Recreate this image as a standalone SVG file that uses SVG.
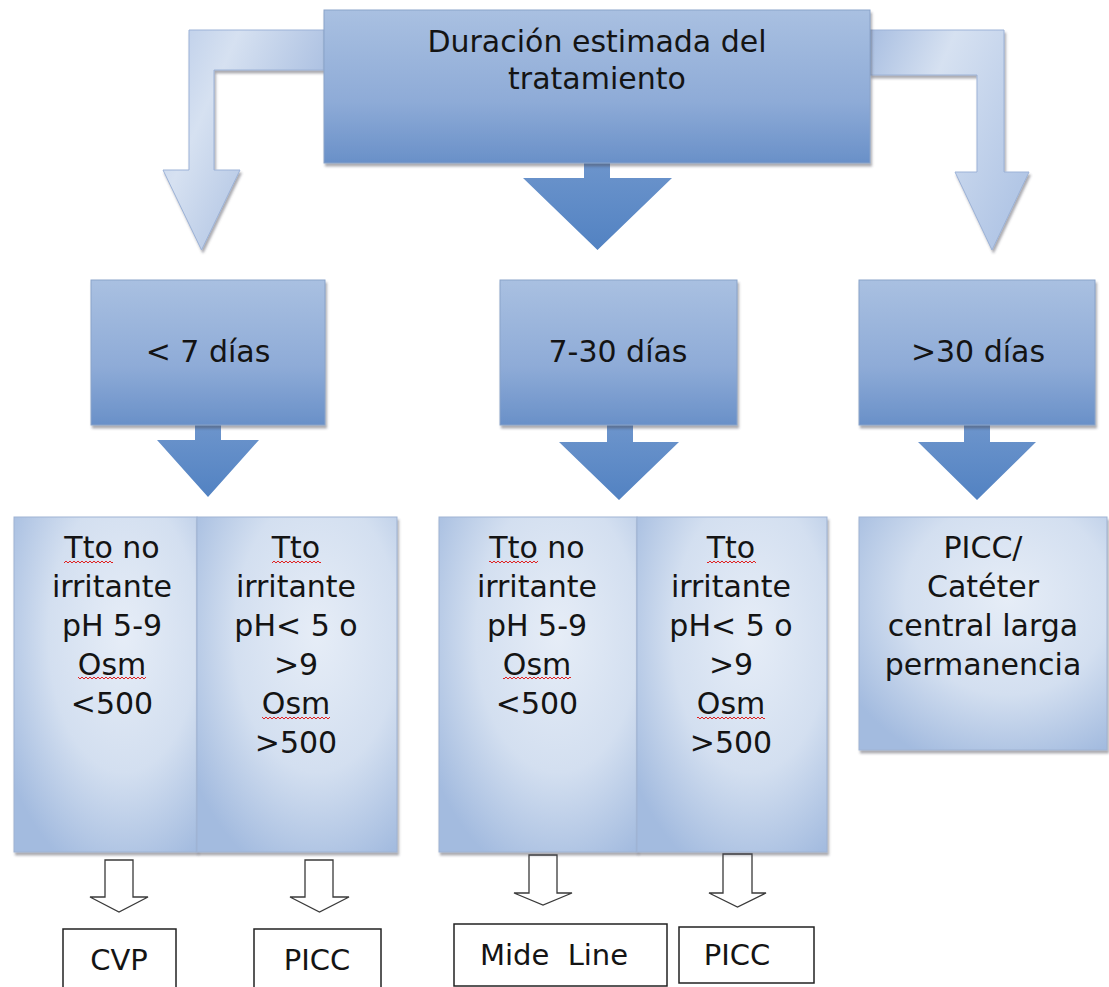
<svg xmlns="http://www.w3.org/2000/svg" width="1109" height="987" viewBox="0 0 1109 987">
<defs>
<linearGradient id="gBox" x1="0" y1="0" x2="0" y2="1">
<stop offset="0" stop-color="#a9c0e1"/><stop offset="0.6" stop-color="#8eabd7"/><stop offset="1" stop-color="#6990c8"/>
</linearGradient>
<linearGradient id="gSolid" x1="0" y1="0" x2="0" y2="1">
<stop offset="0" stop-color="#6d95cc"/><stop offset="1" stop-color="#5282c2"/>
</linearGradient>
<linearGradient id="gBentL" x1="0" y1="0" x2="1" y2="0.6">
<stop offset="0" stop-color="#b9cbe8"/><stop offset="0.35" stop-color="#d6e1f1"/><stop offset="1" stop-color="#9db5dc"/>
</linearGradient>
<linearGradient id="gBentR" x1="0" y1="0" x2="1" y2="0.6">
<stop offset="0" stop-color="#a8bee1"/><stop offset="0.4" stop-color="#d6e1f1"/><stop offset="1" stop-color="#b3c7e6"/>
</linearGradient>
<radialGradient id="gLow" cx="0.6" cy="0.35" r="0.75">
<stop offset="0" stop-color="#e6edf7"/><stop offset="0.55" stop-color="#d3dff0"/><stop offset="1" stop-color="#a3bbdf"/>
</radialGradient>
<pattern id="sq" width="4" height="4" patternUnits="userSpaceOnUse">
<polyline points="0,3 2,1 4,3" fill="none" stroke="#e02020" stroke-width="1"/>
</pattern>
<filter id="sh" x="-5%" y="-5%" width="110%" height="115%">
<feDropShadow dx="1.5" dy="3" stdDeviation="1.2" flood-color="#445" flood-opacity="0.45"/>
</filter>
</defs>
<style>
.bx{fill:url(#gBox);stroke:#8aa3c9;stroke-width:1;filter:url(#sh)}
.low{fill:url(#gLow);stroke:#9fb3d3;stroke-width:1;filter:url(#sh)}
.solid{fill:url(#gSolid)}
.hol{fill:#fff;stroke:#3a3a3a;stroke-width:1.3}
.wb{fill:#fff;stroke:#222;stroke-width:1.5}
text{font-family:"DejaVu Sans","Verdana",sans-serif;font-size:30px;fill:#141414;text-anchor:middle}
.sm{font-size:29px}
.sqr{fill:url(#sq)}
</style>
<g id="connectors">
<path d="M324,30 H189 V170 H163 L201.5,250 L240,170 H214 V70 H324 Z" fill="url(#gBentL)" stroke="#9cb2d7" stroke-width="1" filter="url(#sh)"/>
<path d="M870,30 H1004 V172 H1029 L992,250 L955,172 H977 V75 H870 Z" fill="url(#gBentR)" stroke="#9cb2d7" stroke-width="1" filter="url(#sh)"/>
<path class="solid" d="M584,160 H610 V178 H672 L597.5,250 L523,178 H584 Z"/>
<path class="solid" d="M195,424 H221 V440 H259 L208,497 L157,440 H195 Z"/>
<path class="solid" d="M607,424 H633 V442 H679 L619,500 L559,442 H607 Z"/>
<path class="solid" d="M964,424 H990 V442 H1036 L977,500 L918,442 H964 Z"/>
<path class="hol" d="M105,860 H133 V897 H148 L119,912 L90,897 H105 Z"/>
<path class="hol" d="M305,860 H333 V897 H349 L319.5,912 L290,897 H305 Z"/>
<path class="hol" d="M529,855 H557 V893 H572 L543,905 L514,893 H529 Z"/>
<path class="hol" d="M723,854 H752 V893 H766 L737.5,907 L709,893 H723 Z"/>
</g>
<g id="top">
<rect class="bx" x="324" y="10" width="546" height="153"/>
<text x="597" y="52">Duración estimada del</text>
<text x="597" y="89">tratamiento</text>
</g>
<g id="menos7">
<rect class="bx" x="91" y="280" width="234" height="145"/>
<text x="208" y="362">&lt; 7 días</text>
</g>
<g id="d7a30">
<rect class="bx" x="500" y="280" width="237" height="145"/>
<text x="618" y="362">7-30 días</text>
</g>
<g id="mas30">
<rect class="bx" x="859" y="280" width="236" height="145"/>
<text x="978" y="362">&gt;30 días</text>
</g>
<g id="noirr1">
<rect class="low" x="14" y="517" width="183" height="335"/>
<text x="112" y="558">Tto no</text>
<text x="112" y="597">irritante</text>
<text x="112" y="636">pH 5-9</text>
<text x="112" y="675">Osm</text>
<text x="112" y="714">&lt;500</text>
<rect class="sqr" x="64" y="559" width="49" height="4"/>
<rect class="sqr" x="78" y="676" width="68" height="4"/>
</g>
<g id="irr1">
<rect class="low" x="197" y="517" width="200" height="335"/>
<text x="296" y="558">Tto</text>
<text x="296" y="597">irritante</text>
<text x="296" y="636">pH&lt; 5 o</text>
<text x="296" y="675">&gt;9</text>
<text x="296" y="714">Osm</text>
<text x="296" y="753">&gt;500</text>
<rect class="sqr" x="272" y="559" width="49" height="4"/>
<rect class="sqr" x="262" y="715" width="68" height="4"/>
</g>
<g id="noirr2">
<rect class="low" x="439" y="517" width="198" height="335"/>
<text x="537" y="558">Tto no</text>
<text x="537" y="597">irritante</text>
<text x="537" y="636">pH 5-9</text>
<text x="537" y="675">Osm</text>
<text x="537" y="714">&lt;500</text>
<rect class="sqr" x="489" y="559" width="49" height="4"/>
<rect class="sqr" x="503" y="676" width="68" height="4"/>
</g>
<g id="irr2">
<rect class="low" x="637" y="517" width="190" height="335"/>
<text x="731" y="558">Tto</text>
<text x="731" y="597">irritante</text>
<text x="731" y="636">pH&lt; 5 o</text>
<text x="731" y="675">&gt;9</text>
<text x="731" y="714">Osm</text>
<text x="731" y="753">&gt;500</text>
<rect class="sqr" x="707" y="559" width="49" height="4"/>
<rect class="sqr" x="697" y="715" width="68" height="4"/>
</g>
<g id="picc_largo">
<rect class="low" x="859" y="517" width="248" height="233"/>
<text x="983" y="558">PICC/</text>
<text x="983" y="597">Catéter</text>
<text x="983" y="636">central larga</text>
<text x="983" y="675">permanencia</text>
</g>
<g id="cvp">
<rect class="wb" x="63" y="929" width="113" height="70"/>
<text class="sm" x="119" y="970">CVP</text>
</g>
<g id="picc1">
<rect class="wb" x="254" y="929" width="127" height="70"/>
<text class="sm" x="317" y="970">PICC</text>
</g>
<g id="midline">
<rect class="wb" x="454" y="924" width="213" height="62"/>
<text class="sm" x="554" y="965" xml:space="preserve">Mide  Line</text>
</g>
<g id="picc2">
<rect class="wb" x="679" y="927" width="135" height="56"/>
<text class="sm" x="737" y="965">PICC</text>
</g>
</svg>
